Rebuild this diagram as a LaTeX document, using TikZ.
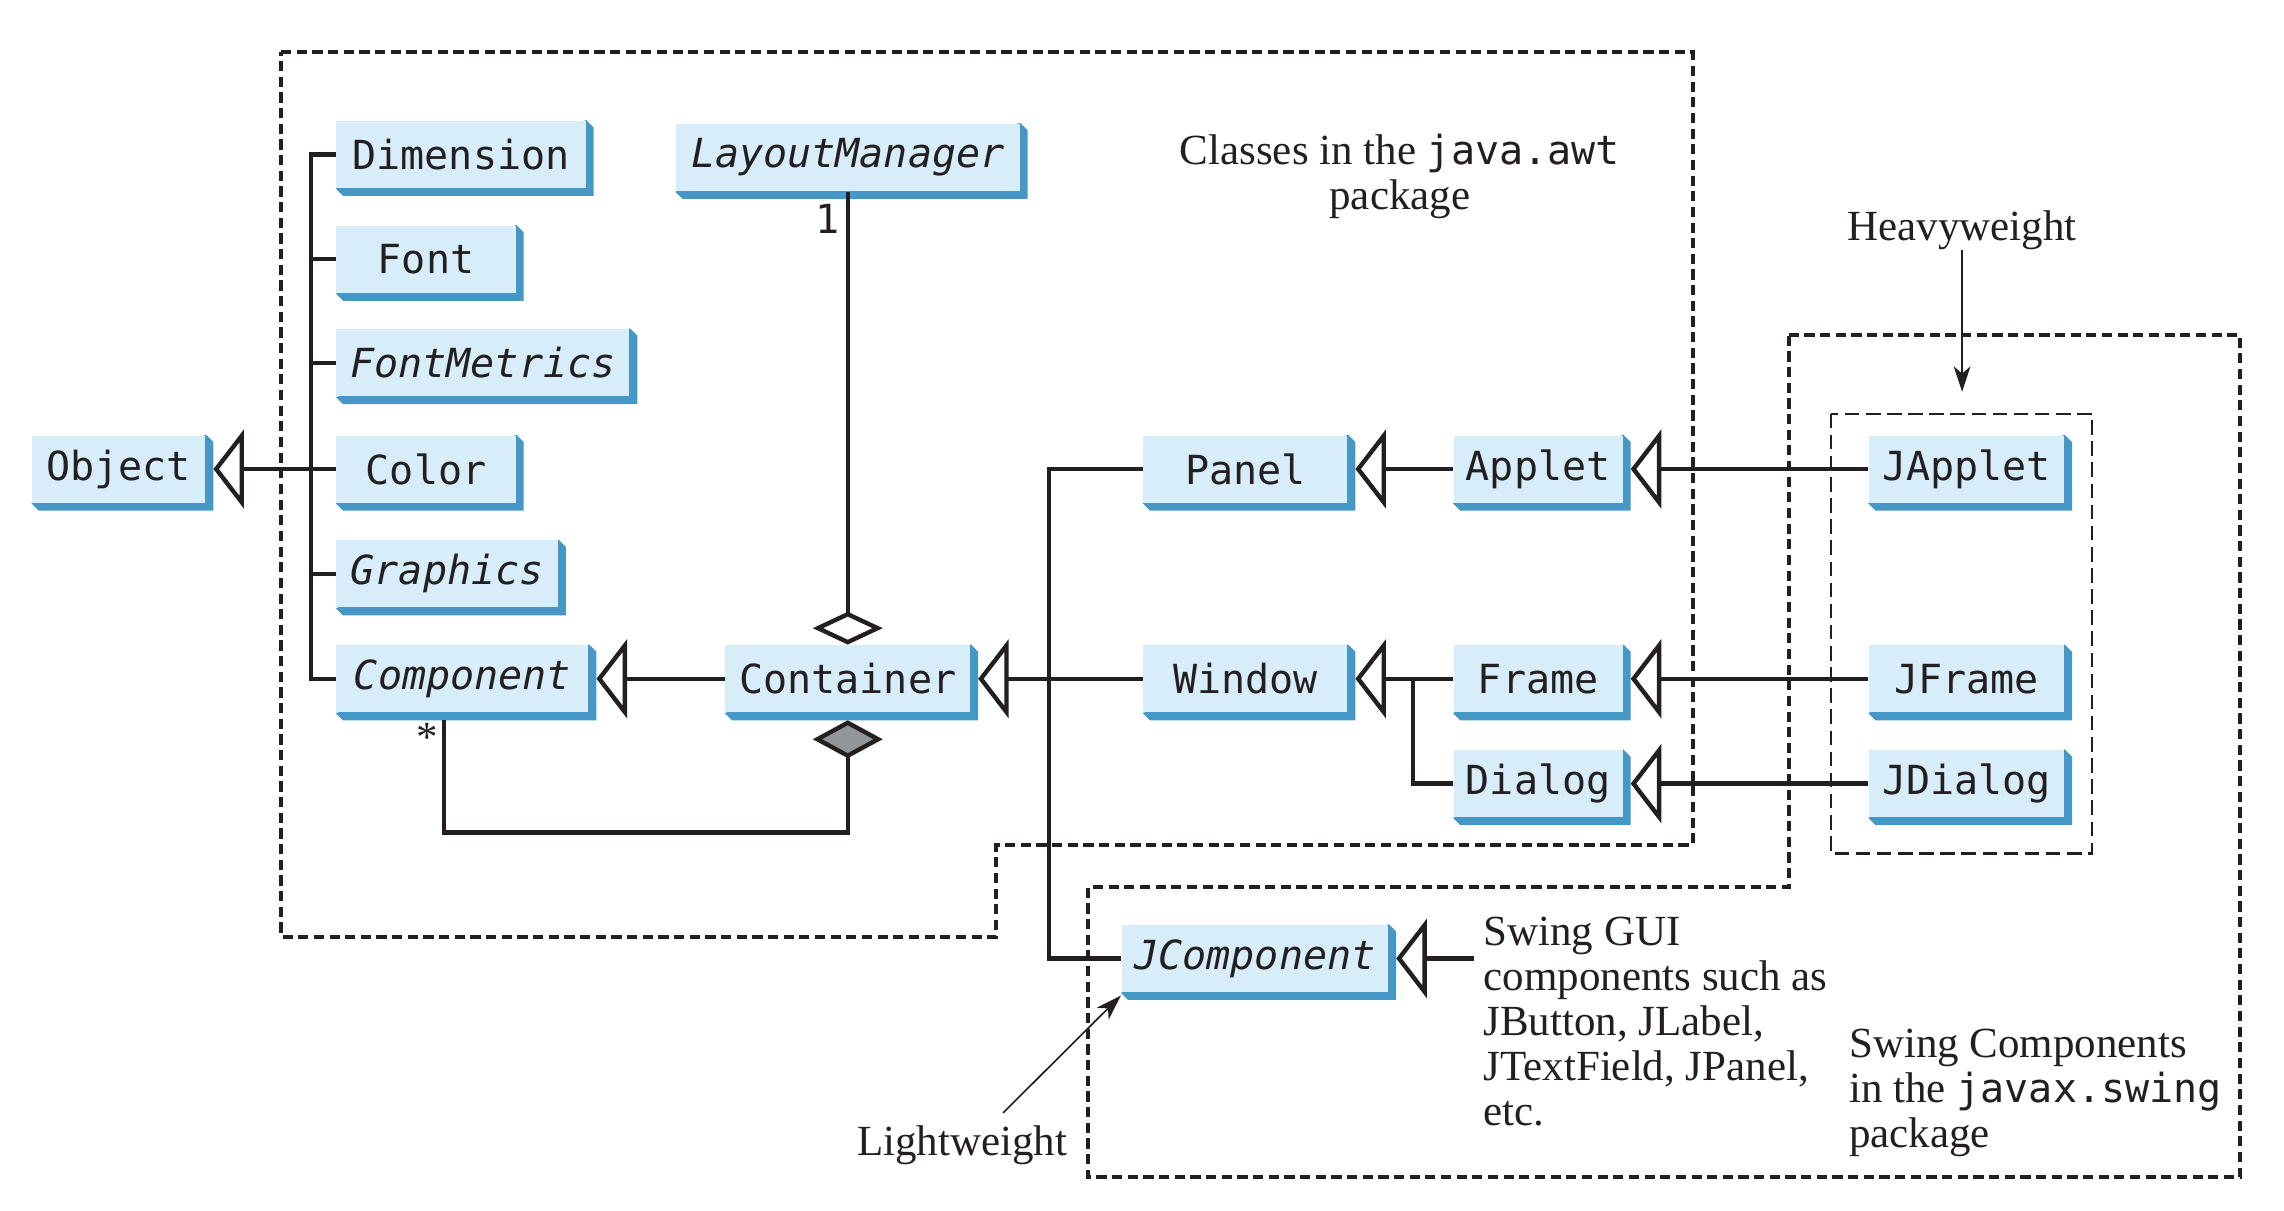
\documentclass[tikz,border=0pt]{standalone}
\usepackage{fontspec}
\setmainfont{Liberation Serif}
\newfontfamily\cmono{DejaVu Sans Mono}
\usetikzlibrary{arrows.meta,calc,backgrounds}
\definecolor{boxfill}{HTML}{D7EDF9}
\definecolor{boxshade}{HTML}{4598C6}
\definecolor{ink}{HTML}{231F20}
\definecolor{diamgray}{HTML}{939598}
\newcommand\jcode[1]{{\cmono\fontsize{11}{12.4}\selectfont #1}}
\tikzset{
  cls/.style={fill=boxfill, inner sep=0pt, minimum height=18.4pt, text=ink,
    font=\cmono\fontsize{11}{13}\selectfont},
  abscls/.style={cls, font=\cmono\fontsize{11}{13}\selectfont\itshape},
  bw/.style={minimum width=#1*0.4pt},
  ln/.style={draw=ink, line width=1.2pt},
  gen/.style={ln, -{Triangle[open, length=8.4pt, width=21.6pt]}},
  aggr/.style={ln, -{Diamond[open, length=9pt, width=19.2pt]}},
  compo/.style={ln, -{Diamond[fill=diamgray, length=10.4pt, width=19.2pt]}},
  pointer/.style={draw=ink, line width=0.45pt, -{Stealth[length=7pt, width=4.6pt, inset=2pt]}},
  pkg/.style={draw=ink, line width=1.1pt, dash pattern=on 2.8pt off 1.5pt},
  hvy/.style={draw=ink, line width=0.6pt, dash pattern=on 4pt off 1.8pt},
  lbl/.style={font=\fontsize{11.8}{12.4}\selectfont, text=ink, inner sep=0pt},
}
\begin{document}
\begin{tikzpicture}[x=0.4pt, y=-0.4pt]
\useasboundingbox (0,0) rectangle (1568,831);

% package outlines
\draw[pkg] (193,36) -- (1162,36) -- (1162,580) -- (684,580) -- (684,643) -- (193,643) -- cycle;
\draw[pkg] (1228,230) -- (1538,230) -- (1538,808) -- (747,808) -- (747,609) -- (1228,609) -- cycle;
\draw[hvy] (1257,284) rectangle (1436,586);

% classes
\node[cls, bw=171] (dim) at (316.5,106) {Dimension};
\node[cls, bw=123] (font) at (292.5,178) {Font};
\node[abscls, bw=201] (fm) at (331.5,249) {FontMetrics};
\node[cls, bw=123] (color) at (292.5,322) {Color};
\node[abscls, bw=152] (graph) at (307,394) {Graphics};
\node[abscls, bw=173] (comp) at (317.5,466) {Component};
\node[cls, bw=119] (obj) at (81.5,322) {Object};
\node[abscls, bw=236] (lm) at (582,108) {LayoutManager};
\node[cls, bw=168] (cont) at (582,466) {Container};
\node[cls, bw=140] (panel) at (855,322) {Panel};
\node[cls, bw=116] (applet) at (1056,322) {Applet};
\node[cls, bw=140] (win) at (855,466) {Window};
\node[cls, bw=116] (frame) at (1056,466) {Frame};
\node[cls, bw=116] (dialog) at (1056,538) {Dialog};
\node[cls, bw=134] (japplet) at (1350,322) {JApplet};
\node[cls, bw=134] (jframe) at (1350,466) {JFrame};
\node[cls, bw=134] (jdialog) at (1350,538) {JDialog};
\node[abscls, bw=183] (jcomp) at (861.5,658) {JComponent};

% 3D shadows
\begin{scope}[on background layer]
\foreach \n in {dim,font,fm,color,graph,comp,obj,lm,cont,panel,applet,win,frame,dialog,japplet,jframe,jdialog,jcomp}{
  \fill[boxshade] (\n.north east) -- ++(5,5) -- ($(\n.south east)+(5,5)$)
     -- ($(\n.south west)+(5,5)$) -- (\n.south west) -- cycle;
}
\end{scope}

% texts (base anchor = baseline of the last line)
\node[lbl, align=center, anchor=base] (awtlbl) at (961,144) {Classes in the \jcode{java.awt}\\package};
\node[lbl, align=left, anchor=base west] (swgui) at (1018,773) {Swing GUI\\components such as\\JButton, JLabel,\\JTextField, JPanel,\\etc.};
\node[lbl, align=left, anchor=base west] (swlbl) at (1269,788) {Swing Components\\in the \jcode{javax.swing}\\package};
\node[lbl, anchor=base west] (lw) at (588,793) {Lightweight};
\node[lbl, anchor=base] (hw) at (1347,165) {Heavyweight};
\node[inner sep=0pt, anchor=base east, text=ink, font=\cmono\fontsize{11}{13}\selectfont] (m1) at (577,160) {1};
\node[lbl, anchor=base] (m2) at (293,516) {*};

% Object hierarchy trunk
\draw[ln] (dim.west) -- ++(-17,0) coordinate (ttop) |- (comp.west);
\draw[ln] (font.west) -- (font.west -| ttop);
\draw[ln] (fm.west) -- (fm.west -| ttop);
\draw[ln] (graph.west) -- (graph.west -| ttop);
\draw[gen] (color.west) -- ($(obj.east)+(5,0)$);

% Container relations
\draw[gen] (cont.west) -- ($(comp.east)+(5,0)$);
\draw[aggr] (lm.south) -- (cont.north);
\draw[compo] ($(comp.south)+(-12.5,5)$) -- ++(0,77) -| ($(cont.south)+(0,5)$);
\coordinate (bus) at (720,466);
\draw[gen] (win.west) -- ($(cont.east)+(5,0)$);
\draw[ln] (panel.west) -| (bus) |- (jcomp.west);

% Panel / Window subclasses
\draw[gen] (applet.west) -- ($(panel.east)+(5,0)$);
\coordinate (wbr) at (970,466);
\draw[gen] (frame.west) -- ($(win.east)+(5,0)$);
\draw[ln] (dialog.west) -| (wbr);

% Swing heavyweight
\draw[gen] (japplet.west) -- ($(applet.east)+(5,0)$);
\draw[gen] (jframe.west) -- ($(frame.east)+(5,0)$);
\draw[gen] (jdialog.west) -- ($(dialog.east)+(5,0)$);

% Swing lightweight
\coordinate (sgend) at (1012,658);
\draw[gen] (sgend) -- ($(jcomp.east)+(5,0)$);

% pointers
\coordinate (hwtip) at (1347,269);
\draw[pointer] (hw.south) -- (hwtip);
\draw[pointer] ($(lw.north)+(28,-8)$) -- ($(jcomp.south west)+(0,2)$);
\end{tikzpicture}
\end{document}
